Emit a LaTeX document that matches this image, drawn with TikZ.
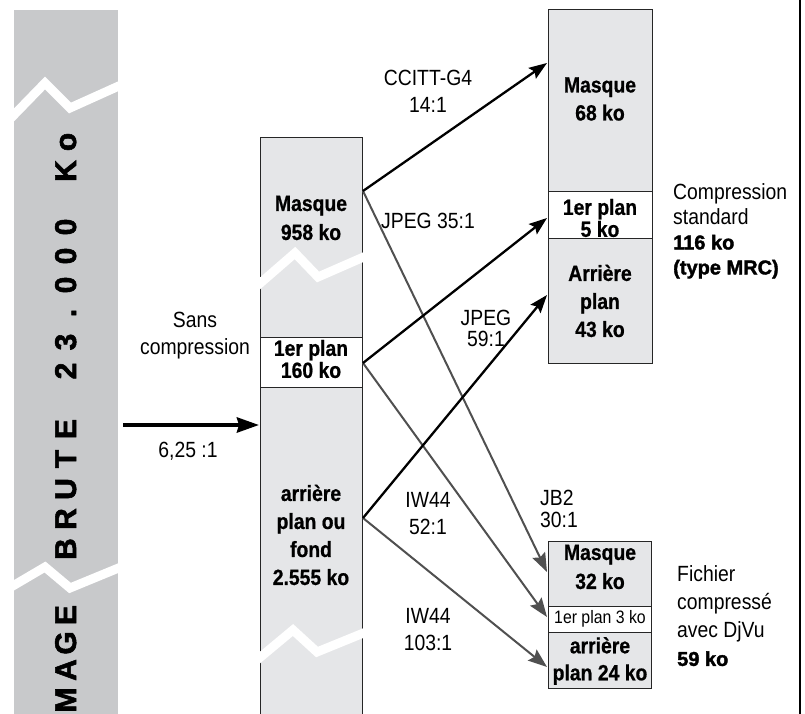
\documentclass[tikz,border=0pt]{standalone}
\usepackage{fontspec}
\setmainfont{Liberation Sans}[FakeStretch=0.88, BoldFeatures={FakeBold=0.7}]
\newfontfamily\heavyfont{Liberation Sans}[BoldFeatures={FakeBold=1.8}]
\usetikzlibrary{arrows.meta}

\definecolor{bargray}{RGB}{200,201,203}
\definecolor{boxgray}{RGB}{229,230,232}
\definecolor{arrgray}{RGB}{80,80,80}

\tikzset{
  colbox/.style={draw=black!85, fill=boxgray, line width=0.9pt},
  fgbox/.style={draw=black!85, fill=white, line width=0.9pt},
  lbl/.style={font=\fontsize{22}{27}\selectfont, align=center, inner sep=0pt},
  bxt/.style={font=\bfseries\fontsize{22}{29}\selectfont, align=center, inner sep=0pt},
  vlet/.style={rotate=90, anchor=base, inner sep=0pt,
    font=\heavyfont\bfseries\fontsize{30}{30}\selectfont},
  cut/.style={white, line width=9pt},
  blk/.style={line width=2.3pt, -{Stealth[length=18pt,width=13pt,inset=3pt]}},
  gry/.style={arrgray, line width=2pt, -{Stealth[length=19pt,width=14pt,inset=3pt]}},
  bigarr/.style={line width=4pt, -{Stealth[length=22pt,width=15pt,inset=2pt]}}
}
\newcommand{\hv}[1]{{\heavyfont\bfseries\fontsize{20}{25}\selectfont #1}}

\begin{document}
\begin{tikzpicture}[x=1pt,y=-1pt]
  \useasboundingbox (0,0) rectangle (805,714);

  % raw image bar
  \fill[bargray] (14,10) rectangle (118,716);
  \draw[cut] (11,118) -- (45,83) -- (70,108) -- (121,85);
  \draw[cut] (11,587) -- (45,567) -- (70,588) -- (121,567);
  \foreach \c/\y in {M/700,A/670,G/643,E/615,B/549,R/519,U/489,T/459,E/429,
                     2/371,3/342,./313,0/285,0/256,0/227,K/171,o/142}
    \node[vlet] (v\y) at (76,\y) {\c};

  % uncompressed layers
  \draw[colbox] (260,137) rectangle (362,716);
  \draw[fgbox] (260,337) rectangle (362,387);
  \draw[cut] (257,286) -- (295,253) -- (318,277) -- (366,256);
  \draw[cut] (257,660) -- (293,630) -- (317,652) -- (366,632);
  \node[bxt] (mMask) at (311,218) {Masque\\958 ko};
  \node[bxt] (mFg) at (311,359) {1er plan\\[-7pt]160 ko};
  \node[bxt] (mBg) at (311,535) {arrière\\[-1pt]plan ou\\[-1pt]fond\\[-1pt]2.555 ko};

  % standard compression
  \draw[colbox] (548,9) rectangle (652,363);
  \draw[fgbox] (548,191) rectangle (652,238);
  \node[bxt] (sMask) at (600,99) {Masque\\[-1pt]68 ko};
  \node[bxt] (sFg) at (600,218) {1er plan\\[-7pt]5 ko};
  \node[bxt] (sBg) at (600,301) {Arrière\\[-1pt]plan\\[-1pt]43 ko};
  \node[lbl, align=left, anchor=west] (std) at (673,231)
    {Compression\\[-2pt]standard\\[-2pt]\hv{116 ko}\\[-2pt]\hv{(type MRC)}};

  % djvu
  \draw[colbox] (548,541) rectangle (651,688);
  \draw[fgbox] (548,606) rectangle (651,632);
  \node[bxt] (dMaskTxt) at (600,567) {Masque\\32 ko};
  \node[lbl, font=\fontsize{18}{20}\selectfont] (dFgTxt) at (600,619) {1er plan 3 ko};
  \node[bxt] (dBgTxt) at (600,661) {arrière\\[-2pt]plan 24 ko};
  \node[lbl, align=left, anchor=west] (djvu) at (677,616)
    {Fichier\\[1pt]compressé\\[1pt]avec DjVu\\[1pt]\hv{59 ko}};

  % ports
  \coordinate (src) at (123,425);
  \coordinate (pIn) at (259,425);
  \coordinate (pMask) at (363,191);
  \coordinate (pFg) at (363,363);
  \coordinate (pBg) at (363,518);
  \coordinate (tMask) at (547,63);
  \coordinate (tFg) at (547,218);
  \coordinate (tBg) at (547,295);
  \coordinate (dMask) at (547,572);
  \coordinate (dFg) at (547,617);
  \coordinate (dBg) at (547,667);

  % arrows
  \draw[bigarr] (src) -- (pIn);
  \draw[gry] (pMask) -- (dMask);
  \draw[gry] (pFg) -- (dFg);
  \draw[gry] (pBg) -- (dBg);
  \draw[blk] (pMask) -- (tMask);
  \draw[blk] (pFg) -- (tFg);
  \draw[blk] (pBg) -- (tBg);

  % ratios
  \node[lbl] (sans) at (195,336) {Sans\\compression};
  \node[lbl] (raw) at (188,451) {6,25 :1};
  \node[lbl] (ccitt) at (428,91) {CCITT-G4\\14:1};
  \node[lbl] (jpgA) at (428,221) {JPEG 35:1};
  \node[lbl] (jpgB) at (486,328) {JPEG\\[-6pt]59:1};
  \node[lbl] (iwA) at (428,514) {IW44\\52:1};
  \node[lbl] (iwB) at (428,630) {IW44\\103:1};
  \node[lbl, align=left, anchor=west] (jb) at (540,509) {JB2\\[-5pt]30:1};

  \draw[line width=1.5pt] (800,0) -- (800,714);
\end{tikzpicture}
\end{document}
